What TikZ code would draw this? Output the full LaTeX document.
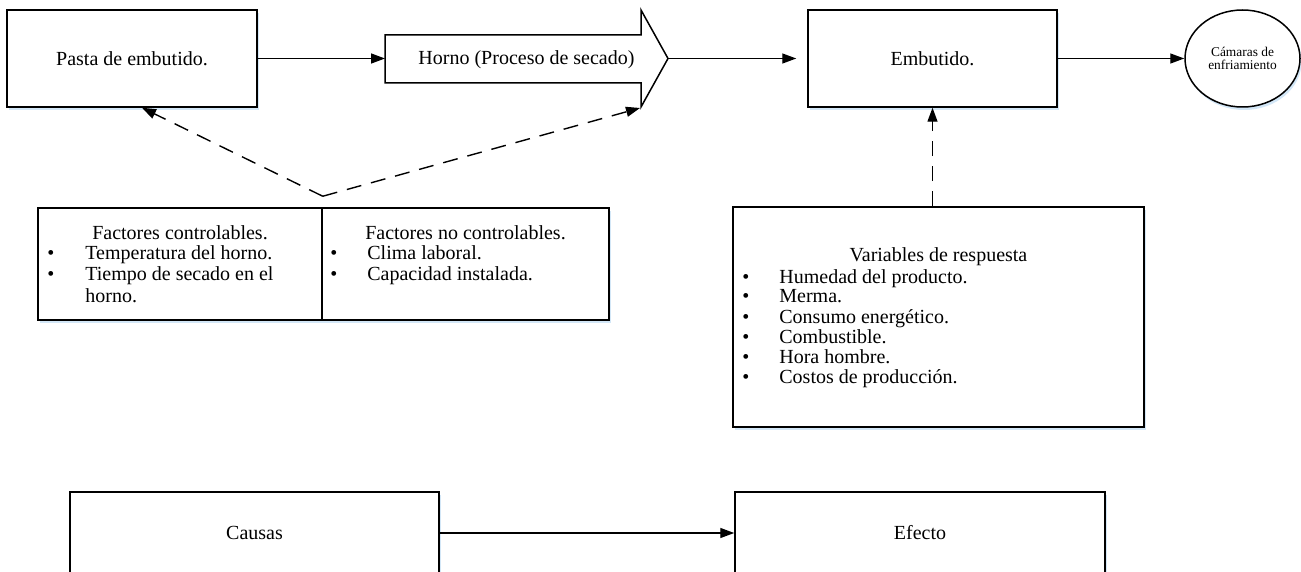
\documentclass[tikz,border=0pt]{standalone}
\usepackage{fontspec}
\setmainfont{Liberation Serif}
\usetikzlibrary{arrows.meta,shapes.geometric,shadows}
\definecolor{sombra}{RGB}{200,225,245}

\begin{document}
\begin{tikzpicture}[x=0.5pt,y=-0.5pt,font=\fontsize{10}{12}\selectfont,
  caja/.style={draw,line width=0.75pt,fill=white,inner sep=0pt,
    drop shadow={shadow xshift=0.8pt,shadow yshift=-1.5pt,fill=sombra,opacity=0.8}},
  flecha/.style={draw,line width=0.7pt,-{Triangle[length=7pt,width=5pt]}},
  punteada/.style={flecha,dash pattern=on 7.5pt off 5pt},
  lista/.style={align=left,inner sep=0pt,anchor=base west,font=\fontsize{10}{10.5}\selectfont}]
\useasboundingbox (0,0) rectangle (1301,572);

\node[caja,minimum width=125pt,minimum height=48.5pt] (pasta) at (132,58.5) {Pasta de embutido.};
\path[draw,line width=0.75pt,fill=white] (385,35) -- (641,35) -- (641,10) -- (668,58.5) -- (641,107) -- (641,83) -- (385,83) -- cycle;
\node (horno) at (526.5,59.5) {Horno (Proceso de secado)};
\coordinate (hornoin) at (385,58.5);
\coordinate (hornotip) at (668,58.5);
\coordinate (hornopie) at (640,108);
\node[caja,minimum width=124.5pt,minimum height=48.5pt] (embutido) at (932.5,58.5) {Embutido.};
\node[caja,ellipse,minimum width=57.5pt,minimum height=48.5pt,align=center,font=\fontsize{6.7}{6.5}\selectfont] (camaras) at (1242.5,58.5) {Cámaras de\\enfriamiento};

\node[caja,minimum width=142pt,minimum height=56pt] (ctrl) at (180,264) {};
\node[caja,minimum width=143.5pt,minimum height=56pt] (noctrl) at (465.5,264) {};
\node (tctrl) at (180,233) {Factores controlables.};
\node[lista] (lctrl) at (47,302) {\makebox[19pt][l]{\textbullet}Temperatura del horno.\\
  \makebox[19pt][l]{\textbullet}Tiempo de secado en el\\
  \hspace*{19pt}horno.};
\node (tnoctrl) at (465.5,233) {Factores no controlables.};
\node[lista] (lnoctrl) at (330,281) {\makebox[18.5pt][l]{\textbullet}Clima laboral.\\
  \makebox[18.5pt][l]{\textbullet}Capacidad instalada.};

\node[caja,minimum width=205.5pt,minimum height=110pt] (variables) at (938.5,317) {};
\node (tvar) at (938.5,257) {Variables de respuesta};
\node[lista,font=\fontsize{10}{10}\selectfont] (lvar) at (742,383) {\makebox[18.5pt][l]{\textbullet}Humedad del producto.\\
  \makebox[18.5pt][l]{\textbullet}Merma.\\
  \makebox[18.5pt][l]{\textbullet}Consumo energético.\\
  \makebox[18.5pt][l]{\textbullet}Combustible.\\
  \makebox[18.5pt][l]{\textbullet}Hora hombre.\\
  \makebox[18.5pt][l]{\textbullet}Costos de producción.};

\node[caja,minimum width=184.5pt,minimum height=41pt] (causas) at (254.5,533) {Causas};
\node[caja,minimum width=185pt,minimum height=41pt] (efecto) at (920,533) {Efecto};

\path[flecha] (pasta) -- (hornoin);
\path[flecha,shorten >=5.5pt] (hornotip) -- (embutido);
\path[flecha] (embutido) -- (camaras);
\path[flecha] (causas) -- (efecto);
\coordinate (vertice) at ([yshift=5.5pt]ctrl.north east);
\path[punteada] (vertice) -- ([xshift=5pt]pasta.south);
\path[punteada] (vertice) -- (hornopie);
\path[punteada] ([xshift=-3pt]variables.north) -- (embutido.south);
\end{tikzpicture}
\end{document}
